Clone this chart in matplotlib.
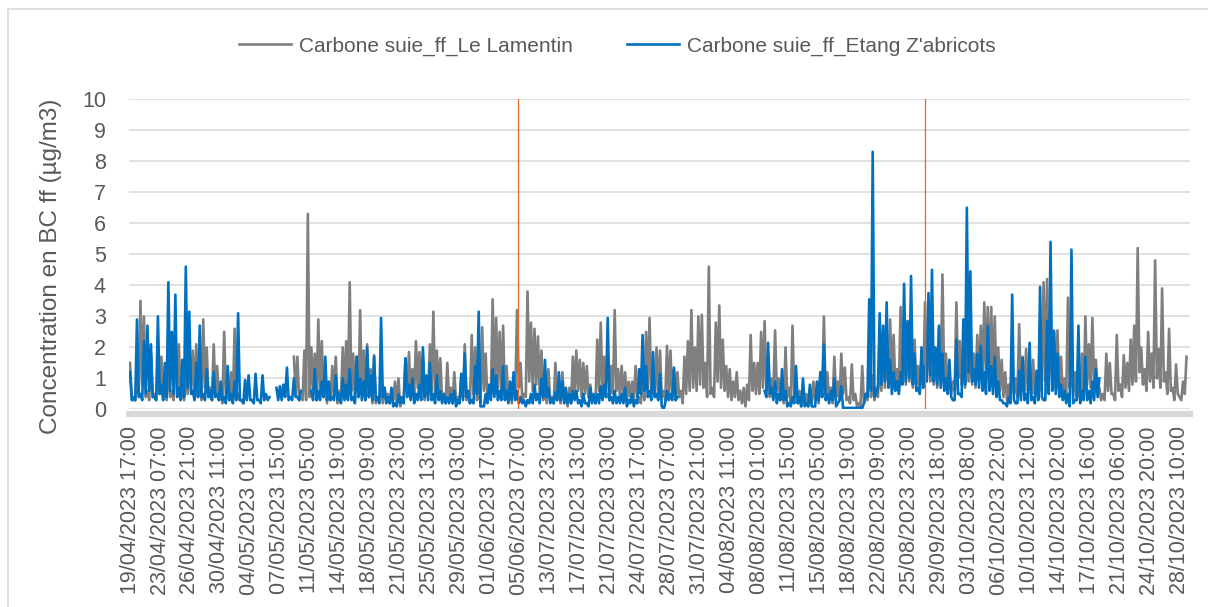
import numpy as np
import matplotlib.pyplot as plt
from matplotlib.lines import Line2D

nan = np.nan

# values, one reading every 10 hourly categories
lamentin = [
    1.5, 0.3, 0.8, 3.5, 3.0, 0.6, 1.8, 0.5, 1.2, 1.7,
    0.6, 1.5, 0.6, 2.5, 2.1, 0.5, 1.4, 2.0, 1.9, 2.1,
    0.8, 2.9, 2.0, 0.7, 2.1, 1.4, 0.5, 2.5, 0.4, 1.2,
    2.6, 0.5, 0.3, 0.4, nan, nan, nan, nan, nan, nan,
    nan, nan, nan, nan, nan, nan, nan, 1.7, 1.7, 0.4,
    1.9, 6.3, 2.0, 1.8, 2.9, 2.2, 1.0, 0.7, 1.4, 1.7,
    0.6, 2.0, 2.2, 4.1, 1.8, 1.7, 3.2, 1.9, 2.1, 1.3,
    1.75, 0.4, 0.8, 0.7, 0.5, 0.4, 0.9, 1.0, 0.3, 1.65,
    1.85, 1.3, 2.2, 1.85, 1.7, 0.7, 2.1, 3.15, 1.9, 1.65,
    0.5, 1.5, 0.7, 1.2, 0.4, 1.0, 2.1, 0.4, 2.4, 2.0,
    0.8, 2.65, 1.8, 0.6, 3.55, 2.95, 2.5, 2.7, 1.4, 0.8,
    1.0, 3.2, 1.5, 0.5, 3.8, 2.8, 2.6, 2.35, 1.9, 0.9,
    1.3, 0.4, 1.5, 0.6, 1.2, 0.3, 0.7, 1.7, 1.9, 1.6,
    1.5, 1.4, 0.8, 0.3, 2.25, 2.8, 1.7, 0.5, 1.4, 3.2,
    1.3, 1.4, 1.2, 0.9, 0.9, 1.4, 0.4, 1.0, 2.5, 2.95,
    1.2, 2.0, 1.9, 0.6, 2.05, 1.9, 1.3, 1.2, 0.6, 1.7,
    2.2, 3.2, 2.0, 3.0, 3.05, 1.5, 4.6, 0.7, 2.8, 3.35,
    2.25, 1.4, 1.3, 0.9, 1.2, 0.6, 0.7, 0.8, 2.4, 1.5,
    1.5, 2.5, 2.85, 1.7, 1.0, 2.55, 1.0, 0.7, 2.0, 0.7,
    2.7, 0.8, 0.6, 0.8, 0.5, 0.7, 0.9, 0.6, 1.2, 3.0,
    1.2, 0.7, 1.7, 0.9, 1.8, 1.35, 0.4, 1.45, 0.5, 0.2,
    1.4, 0.5, 1.8, 1.1, 0.7, 1.6, 2.25, 2.0, 2.9, 2.4,
    1.3, 3.3, 2.0, 2.7, 2.15, 2.25, 1.4, 1.7, 3.45, 2.9,
    1.8, 1.8, 2.6, 4.35, 1.8, 1.0, 0.9, 3.45, 2.2, 1.7,
    2.4, 1.9, 1.8, 2.4, 2.7, 3.45, 3.3, 3.3, 3.0, 2.0,
    1.6, 1.2, 0.8, 1.75, 1.0, 2.75, 1.7, 1.95, 1.0, 1.6,
    1.0, 1.5, 4.1, 4.2, 2.8, 2.55, 2.55, 1.7, 1.0, 3.6,
    1.3, 1.2, 0.7, 1.8, 3.0, 2.1, 2.95, 1.6, 0.7, 0.5,
    1.8, 1.5, 0.5, 2.4, 0.8, 1.75, 1.5, 2.25, 2.7, 5.2,
    2.0, 1.3, 2.5, 1.8, 4.8, 1.95, 3.9, 1.2, 2.6, 0.7,
    1.45, 0.4, 0.9, 1.7,
]

# dips read between two readings above (5 categories later)
lamentin_lows = [
    0.4, 0.3, 0.5, 0.8, 0.4, 0.3, 0.4, 0.3, 0.5, 0.4,
    0.3, 0.4, 0.3, 0.6, 0.4, 0.3, 0.5, 0.6, 0.5, 0.4,
    0.3, 0.7, 0.4, 0.3, 0.5, 0.3, 0.2, 0.4, 0.3, 0.3,
    0.4, 0.3, 0.2, nan, nan, nan, nan, nan, nan, nan,
    nan, nan, nan, nan, nan, nan, nan, 0.5, 0.3, 0.3,
    0.3, 0.4, 0.6, 0.3, 0.5, 0.4, 0.2, 0.3, 0.4, 0.2,
    0.3, 0.5, 0.4, 0.6, 0.3, 0.4, 0.5, 0.3, 0.4, 0.2,
    0.2, 0.3, 0.2, 0.3, 0.2, 0.3, 0.2, 0.1, 0.4, 0.6,
    0.4, 0.5, 0.7, 0.4, 0.3, 0.5, 0.6, 0.4, 0.5, 0.3,
    0.2, 0.3, 0.2, 0.3, 0.2, 0.4, 0.3, 0.2, 0.5, 0.3,
    0.2, 0.6, 0.3, 0.4, 0.8, 0.7, 0.5, 0.4, 0.3, 0.2,
    0.5, 0.7, 0.3, 0.4, 0.9, 0.6, 0.8, 0.5, 0.3, 0.2,
    0.3, 0.2, 0.3, 0.2, 0.3, 0.1, 0.2, 0.5, 0.6, 0.4,
    0.5, 0.4, 0.3, 0.2, 0.6, 0.5, 0.4, 0.3, 0.5, 0.6,
    0.4, 0.5, 0.3, 0.4, 0.3, 0.4, 0.2, 0.3, 0.7, 0.5,
    0.4, 0.5, 0.4, 0.3, 0.5, 0.4, 0.3, 0.4, 0.2, 0.5,
    0.6, 0.7, 0.6, 0.8, 0.7, 0.4, 0.5, 0.4, 0.9, 0.7,
    0.6, 0.4, 0.3, 0.4, 0.3, 0.2, 0.1, 0.3, 0.6, 0.5,
    0.5, 0.7, 0.6, 0.4, 0.5, 0.6, 0.3, 0.2, 0.4, 0.2,
    0.4, 0.2, 0.1, 0.2, 0.1, 0.2, 0.3, 0.2, 0.4, 0.5,
    0.3, 0.2, 0.4, 0.3, 0.5, 0.3, 0.2, 0.3, 0.1, 0.1,
    0.2, 0.3, 0.4, 0.3, 0.4, 0.6, 0.7, 0.8, 0.9, 0.7,
    0.6, 0.9, 0.8, 0.9, 0.7, 0.8, 0.6, 0.7, 1.0, 0.9,
    0.8, 0.7, 0.9, 1.0, 0.7, 0.5, 0.6, 1.0, 0.8, 0.7,
    0.9, 0.8, 0.7, 0.9, 1.0, 1.1, 1.0, 0.9, 0.8, 0.6,
    0.4, 0.3, 0.3, 0.5, 0.4, 0.6, 0.5, 0.6, 0.4, 0.5,
    0.4, 0.6, 0.9, 1.0, 0.8, 0.7, 0.6, 0.5, 0.4, 0.7,
    0.5, 0.4, 0.3, 0.5, 0.8, 0.7, 0.8, 0.5, 0.3, 0.3,
    0.6, 0.5, 0.3, 0.6, 0.4, 0.7, 0.6, 0.8, 0.9, 1.2,
    0.8, 0.6, 0.9, 0.7, 1.0, 0.7, 0.9, 0.5, 0.6, 0.3,
    0.5, 0.3, 0.5, nan,
]

etang = [
    1.2, 0.4, 2.9, 0.5, 2.2, 2.7, 2.1, 0.4, 3.0, 0.8,
    1.5, 4.1, 2.5, 3.7, 0.7, 1.6, 4.6, 3.15, 0.6, 1.5,
    2.7, 0.5, 1.3, 0.6, 1.2, 0.5, 0.9, 0.4, 1.4, 0.5,
    0.9, 3.1, 0.3, 0.95, 1.1, 0.3, 1.15, 0.3, 1.1, 0.5,
    0.4, nan, 0.7, 0.75, 0.8, 1.35, 0.4, 1.0, 0.4, 0.6,
    nan, nan, 0.6, 1.3, 0.6, 0.9, 1.7, 0.9, 0.4, 1.1,
    0.5, 1.0, 0.8, 1.3, 0.4, 1.7, 1.0, 0.9, 2.0, 1.1,
    1.7, 0.4, 2.95, 0.7, 0.4, 0.7, 0.2, 0.5, 0.4, 1.65,
    0.8, 1.0, 0.5, 0.8, 2.0, 1.1, 1.5, 0.5, 1.1, 0.6,
    0.5, 0.4, 0.5, 0.6, 0.3, 1.15, 1.8, 0.6, 0.3, 1.4,
    3.15, 0.1, 0.5, 0.8, 1.3, 1.1, 0.6, 1.4, 0.6, 0.9,
    1.2, 0.6, 0.4, 0.3, 0.3, 0.5, 0.8, 0.5, 1.0, 1.6,
    0.7, 0.35, 0.55, 1.2, 0.9, 0.7, 0.5, 0.6, 0.6, 0.3,
    0.5, 0.2, 0.7, 0.5, 0.5, 0.75, 0.8, 2.95, 0.4, 0.6,
    0.4, 0.5, 0.7, 0.3, 0.5, 0.3, 1.3, 2.4, 1.4, 0.6,
    1.85, 0.5, 1.15, 0.0, 0.6, 0.5, 1.35, 0.4, nan, nan,
    nan, nan, nan, nan, nan, nan, nan, nan, nan, nan,
    nan, nan, nan, nan, nan, nan, nan, nan, nan, nan,
    nan, nan, 0.6, 2.15, 0.7, 0.9, 0.5, 1.3, 0.6, 0.2,
    0.4, 1.4, 0.4, 1.0, 0.2, 0.8, 0.1, 0.9, 1.2, 2.1,
    0.5, 0.6, 1.0, 0.2, 0.75, 0.05, 0.05, 0.05, 0.05, 0.05,
    0.05, 0.5, 3.55, 8.3, 0.5, 3.1, 2.7, 3.45, 1.6, 1.2,
    0.9, 1.2, 4.05, 2.85, 4.3, 1.8, 0.7, 2.0, 1.4, 3.75,
    4.5, 2.0, 2.7, 1.8, 1.0, 1.6, 0.3, 2.25, 0.5, 2.9,
    6.5, 4.45, 1.3, 1.8, 2.05, 1.2, 2.7, 1.4, 1.7, 0.9,
    0.3, 0.2, 0.4, 3.7, 0.2, 1.25, 1.65, 0.5, 2.15, 0.4,
    1.25, 3.95, 0.3, 2.85, 5.4, 2.5, 1.8, 0.8, 0.6, 0.5,
    5.15, 0.3, 2.7, 0.6, 1.7, 0.6, 0.9, 1.3, 1.0, nan,
    nan, nan, nan, nan, nan, nan, nan, nan, nan, nan,
    nan, nan, nan, nan, nan, nan, nan, nan, nan, nan,
    nan, nan, nan, nan,
]

etang_lows = [
    0.3, 0.3, 0.4, 0.3, 0.5, 0.6, 0.4, 0.3, 0.5, 0.3,
    0.4, 0.6, 0.5, 0.4, 0.3, 0.4, 0.7, 0.5, 0.3, 0.4,
    0.4, 0.3, 0.4, 0.3, 0.4, 0.3, 0.3, 0.2, 0.3, 0.2,
    0.3, 0.3, 0.2, 0.3, 0.3, 0.2, 0.3, 0.2, 0.3, 0.3,
    nan, nan, 0.3, 0.3, 0.4, 0.3, 0.3, 0.4, 0.3, nan,
    nan, nan, 0.3, 0.3, 0.3, 0.4, 0.3, 0.3, 0.3, 0.3,
    0.2, 0.3, 0.3, 0.3, 0.2, 0.4, 0.3, 0.3, 0.4, 0.3,
    0.3, 0.2, 0.4, 0.2, 0.2, 0.1, 0.1, 0.2, 0.2, 0.4,
    0.3, 0.2, 0.3, 0.3, 0.4, 0.3, 0.3, 0.2, 0.3, 0.2,
    0.2, 0.2, 0.2, 0.1, 0.2, 0.3, 0.4, 0.2, 0.2, 0.5,
    0.1, 0.1, 0.2, 0.3, 0.4, 0.3, 0.3, 0.3, 0.2, 0.3,
    0.3, 0.2, 0.2, 0.1, 0.2, 0.2, 0.3, 0.2, 0.4, 0.4,
    0.2, 0.2, 0.3, 0.3, 0.2, 0.2, 0.2, 0.3, 0.2, 0.1,
    0.2, 0.1, 0.2, 0.2, 0.2, 0.3, 0.4, 0.3, 0.2, 0.2,
    0.2, 0.2, 0.1, 0.2, 0.1, 0.2, 0.5, 0.6, 0.4, 0.3,
    0.4, 0.3, 0.1, 0.2, 0.3, 0.3, 0.3, nan, nan, nan,
    nan, nan, nan, nan, nan, nan, nan, nan, nan, nan,
    nan, nan, nan, nan, nan, nan, nan, nan, nan, nan,
    nan, nan, 0.4, 0.5, 0.3, 0.2, 0.3, 0.3, 0.1, 0.1,
    0.2, 0.2, 0.1, 0.1, 0.1, 0.1, 0.1, 0.3, 0.4, 0.3,
    0.2, 0.3, 0.1, 0.3, 0.05, 0.05, 0.05, 0.05, 0.05, 0.05,
    0.2, 0.4, 0.6, 0.4, 0.7, 0.8, 0.9, 0.7, 0.5, 0.6,
    0.5, 0.8, 0.9, 1.0, 0.8, 0.6, 0.5, 0.7, 0.9, 1.1,
    0.9, 0.8, 0.7, 0.6, 0.5, 0.4, 0.3, 0.5, 0.4, 0.8,
    1.2, 0.9, 0.8, 0.7, 0.6, 0.5, 0.6, 0.5, 0.4, 0.3,
    0.2, 0.1, 0.2, 0.3, 0.2, 0.3, 0.3, 0.2, 0.3, 0.2,
    0.3, 0.4, 0.3, 0.5, 0.6, 0.5, 0.4, 0.3, 0.2, 0.1,
    0.2, 0.3, 0.2, 0.3, 0.3, 0.2, 0.3, 0.4, nan, nan,
    nan, nan, nan, nan, nan, nan, nan, nan, nan, nan,
    nan, nan, nan, nan, nan, nan, nan, nan, nan, nan,
    nan, nan, nan, nan,
]

tick_labels = [
    "19/04/2023 17:00", "23/04/2023 07:00", "26/04/2023 21:00", "30/04/2023 11:00",
    "04/05/2023 01:00", "07/05/2023 15:00", "11/05/2023 05:00", "14/05/2023 19:00",
    "18/05/2023 09:00", "21/05/2023 23:00", "25/05/2023 13:00", "29/05/2023 03:00",
    "01/06/2023 17:00", "05/06/2023 07:00", "13/07/2023 23:00", "17/07/2023 13:00",
    "21/07/2023 03:00", "24/07/2023 17:00", "28/07/2023 07:00", "31/07/2023 21:00",
    "04/08/2023 11:00", "08/08/2023 01:00", "11/08/2023 15:00", "15/08/2023 05:00",
    "18/08/2023 19:00", "22/08/2023 09:00", "25/08/2023 23:00", "29/09/2023 18:00",
    "03/10/2023 08:00", "06/10/2023 22:00", "10/10/2023 12:00", "14/10/2023 02:00",
    "17/10/2023 16:00", "21/10/2023 06:00", "24/10/2023 20:00", "28/10/2023 10:00",
]

sample_step = 10      # hourly categories between two readings
label_step = 86       # categories between two axis labels
n_categories = 3040
campaign_breaks = [1112, 2279]

plt.rcParams['font.family'] = ['Liberation Sans', 'DejaVu Sans']
txt = '#595959'


def merge(main, lows):
    # readings at k*10, dips at k*10 + 5, in category order
    xs = np.column_stack([np.arange(len(main)) * sample_step,
                          np.arange(len(lows)) * sample_step + sample_step // 2]).ravel()
    ys = np.column_stack([np.array(main, dtype=float), np.array(lows, dtype=float)]).ravel()
    return xs, ys


fig = plt.figure(figsize=(12.08, 6.07), dpi=100)
ax = fig.add_axes([0.1072, 0.3254, 0.8779, 0.5115])

xg, yg = merge(lamentin, lamentin_lows)
xb, yb = merge(etang, etang_lows)
ax.plot(xg, yg, color='#7F7F7F', lw=1.9, label='Carbone suie_ff_Le Lamentin', zorder=3)
ax.plot(xb, yb, color='#0070C0', lw=1.9, label="Carbone suie_ff_Etang Z'abricots", zorder=4)
for b in campaign_breaks:
    ax.axvline(b, color='#E2682C', lw=0.9, zorder=5)

ax.set_ylim(0, 10)
ax.set_xlim(-1.5, n_categories)
ax.set_yticks(range(0, 11))
ax.grid(axis='y', color='#D9D9D9', lw=1.1, zorder=0)
ax.set_axisbelow(True)

ax.set_xticks(np.arange(len(tick_labels)) * label_step)
ax.set_xticklabels(tick_labels)
ax.tick_params(axis='x', length=0, pad=9, labelsize=15.5, labelcolor=txt, labelrotation=90)
ax.tick_params(axis='y', length=0, pad=17, labelsize=15.5, labelcolor=txt)

for s in ['top', 'right', 'left']:
    ax.spines[s].set_visible(False)
ax.spines['bottom'].set_color('#D9D9D9')
ax.spines['bottom'].set_linewidth(4.5)
ax.spines['bottom'].set_position(('outward', 3))

ax.set_ylabel('Concentration en BC ff (µg/m3)', fontsize=17.5, color=txt)
ax.yaxis.set_label_coords(-0.0636, 0.46)

fig.legend(*ax.get_legend_handles_labels(), loc='center', bbox_to_anchor=(0.511, 0.924),
           ncol=2, frameon=False, fontsize=15, handlelength=2.5, handletextpad=0.4,
           columnspacing=2.6, labelcolor=txt)

# chart frame
fig.add_artist(Line2D([8 / 1208, 8 / 1208], [0, 1 - 9 / 607], color='#D9D9D9', lw=1.2))
fig.add_artist(Line2D([8 / 1208, 1], [1 - 9 / 607, 1 - 9 / 607], color='#D9D9D9', lw=1.2))

fig.savefig('out.png', dpi=100)
